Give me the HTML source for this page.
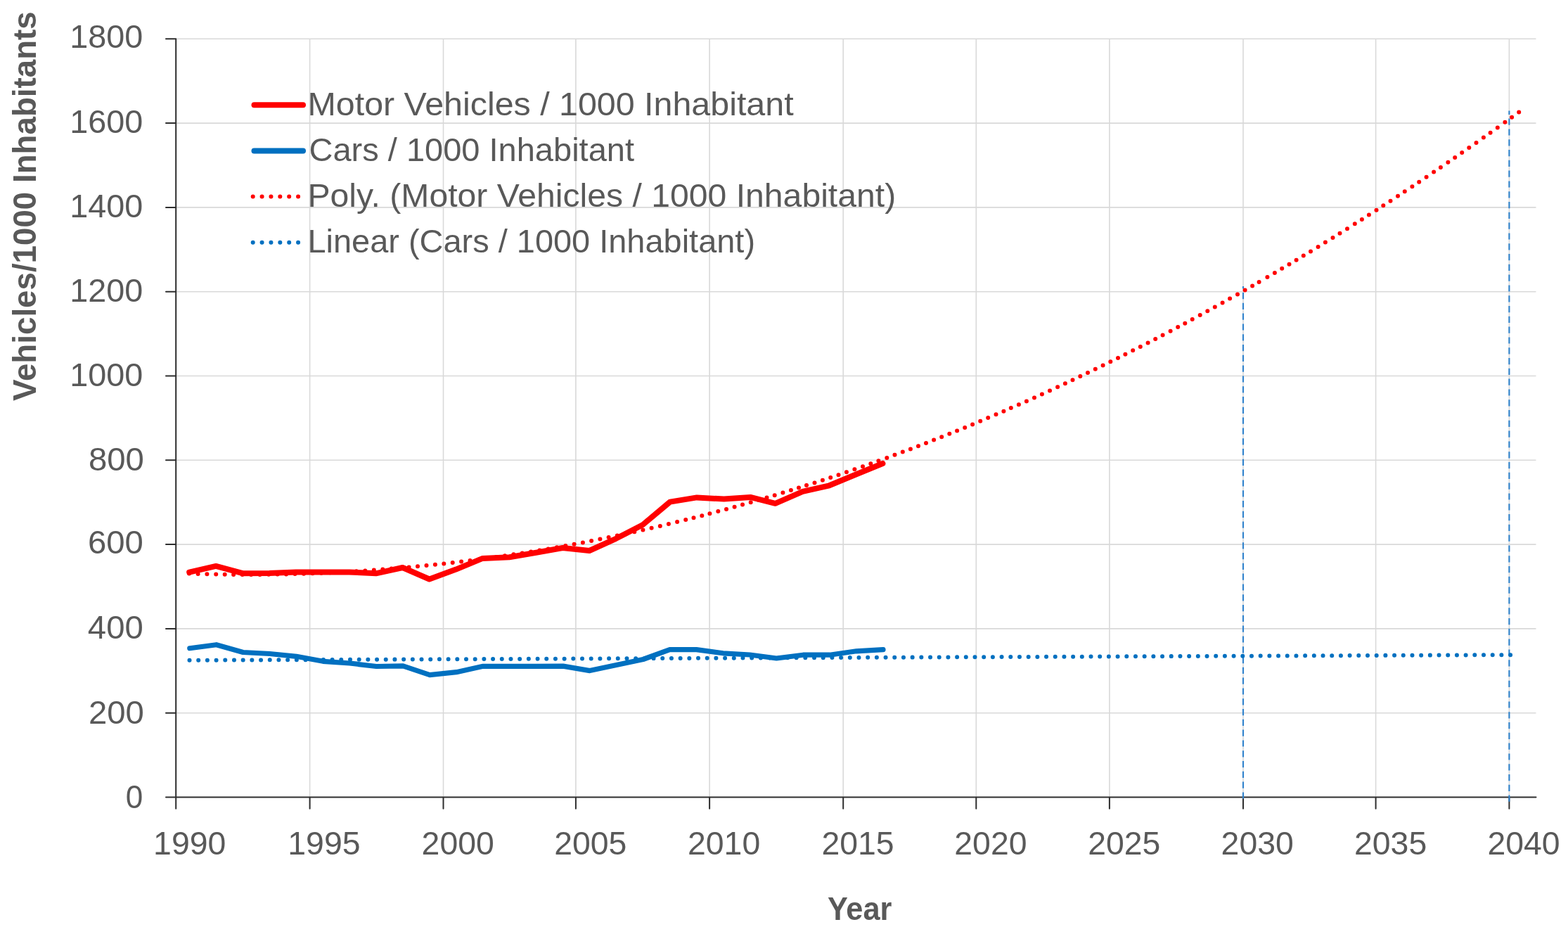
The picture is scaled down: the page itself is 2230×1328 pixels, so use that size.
<!DOCTYPE html>
<html><head><meta charset="utf-8"><title>Vehicles per 1000 Inhabitants</title>
<style>
html,body{margin:0;padding:0;background:#fff;}
body{width:2230px;height:1328px;overflow:hidden;}
svg{display:block;}
text{font-family:"Liberation Sans",Arial,sans-serif;fill:#595959;}
</style></head><body>
<svg width="2230" height="1328" viewBox="0 0 2230 1328">
<rect width="2230" height="1328" fill="#fff"/>
<path d="M250.2 1013.7H2184.5 M250.2 893.9H2184.5 M250.2 774.1H2184.5 M250.2 654.3H2184.5 M250.2 534.5H2184.5 M250.2 414.7H2184.5 M250.2 294.9H2184.5 M250.2 175.1H2184.5 M250.2 55.3H2184.5 M440.6 55.3V1133.5 M630.5 55.3V1133.5 M818.9 55.3V1133.5 M1009.1 55.3V1133.5 M1199.2 55.3V1133.5 M1388.3 55.3V1133.5 M1577.9 55.3V1133.5 M1768.0 55.3V1133.5 M1956.6 55.3V1133.5 M2146.4 55.3V1133.5" stroke="#d9d9d9" stroke-width="1.6" fill="none"/>
<path d="M250.2 55.3V1133.5 M236 1133.5H2184.5 M236 1013.7H250.2 M236 893.9H250.2 M236 774.1H250.2 M236 654.3H250.2 M236 534.5H250.2 M236 414.7H250.2 M236 294.9H250.2 M236 175.1H250.2 M236 55.3H250.2 M250.2 1133.5V1149.7 M440.6 1133.5V1149.7 M630.5 1133.5V1149.7 M818.9 1133.5V1149.7 M1009.1 1133.5V1149.7 M1199.2 1133.5V1149.7 M1388.3 1133.5V1149.7 M1577.9 1133.5V1149.7 M1768.0 1133.5V1149.7 M1956.6 1133.5V1149.7 M2146.4 1133.5V1149.7" stroke="#2e2e2e" stroke-width="2" fill="none" stroke-linecap="round"/>
<path d="M1768.0 1135.6V406.9 M2146.4 1139.8V157.6" stroke="#2f82cc" stroke-width="2.1" stroke-dasharray="9.2 5.6" fill="none"/>
<path d="M269.0 815.5h0.01 M281.6 815.9h0.01 M294.4 816.3h0.01 M307.2 816.5h0.01 M319.7 816.7h0.01 M332.1 816.9h0.01 M344.6 817.0h0.01 M357.1 817.0h0.01 M369.6 816.9h0.01 M382.1 816.8h0.01 M394.6 816.6h0.01 M407.0 816.4h0.01 M419.5 816.1h0.01 M432.0 815.7h0.01 M444.5 815.3h0.01 M457.0 814.8h0.01 M469.5 814.3h0.01 M481.9 813.6h0.01 M494.4 813.0h0.01 M506.9 812.2h0.01 M519.3 811.4h0.01 M531.8 810.6h0.01 M544.3 809.6h0.01 M556.7 808.6h0.01 M569.2 807.6h0.01 M581.6 806.5h0.01 M594.0 805.3h0.01 M606.5 804.1h0.01 M618.9 802.8h0.01 M631.3 801.4h0.01 M643.7 800.0h0.01 M656.1 798.5h0.01 M668.5 797.0h0.01 M680.9 795.4h0.01 M693.3 793.7h0.01 M705.7 792.0h0.01 M718.0 790.2h0.01 M730.4 788.3h0.01 M742.7 786.4h0.01 M755.1 784.5h0.01 M767.4 782.5h0.01 M779.7 780.4h0.01 M792.0 778.2h0.01 M804.3 776.0h0.01 M816.6 773.8h0.01 M828.9 771.4h0.01 M841.1 769.1h0.01 M853.4 766.6h0.01 M865.6 764.1h0.01 M877.8 761.6h0.01 M890.1 759.0h0.01 M902.3 756.3h0.01 M914.4 753.6h0.01 M926.6 750.8h0.01 M938.8 747.9h0.01 M950.9 745.1h0.01 M963.1 742.1h0.01 M975.2 739.1h0.01 M986.5 736.2h0.01 M998.3 733.2h0.01 M1009.4 730.3h0.01 M1021.3 727.1h0.01 M1033.0 723.9h0.01 M1044.6 720.7h0.01 M1056.0 717.5h0.01 M1067.7 714.2h0.01 M1079.1 710.9h0.01 M1090.5 707.5h0.01 M1101.7 704.2h0.01 M1113.4 700.6h0.01 M1124.9 697.1h0.01 M1136.0 693.6h0.01 M1147.0 690.1h0.01 M1158.5 686.4h0.01 M1169.9 682.7h0.01 M1181.2 678.9h0.01 M1192.5 675.2h0.01 M1203.9 671.3h0.01 M1215.4 667.3h0.01 M1227.0 663.3h0.01 M1238.3 659.3h0.01 M1249.4 655.3h0.01 M1261.3 650.9h0.01 M1272.5 646.8h0.01 M1283.8 642.6h0.01 M1294.9 638.4h0.01 M1306.0 634.2h0.01 M1317.0 629.9h0.01 M1328.1 625.6h0.01 M1339.2 621.2h0.01 M1350.3 616.8h0.01 M1361.1 612.4h0.01 M1372.2 607.9h0.01 M1383.1 603.4h0.01 M1394.2 598.8h0.01 M1405.2 594.1h0.01 M1416.5 589.3h0.01 M1427.4 584.7h0.01 M1437.8 580.1h0.01 M1448.9 575.3h0.01 M1459.9 570.4h0.01 M1471.0 565.4h0.01 M1481.9 560.5h0.01 M1493.0 555.4h0.01 M1504.1 550.3h0.01 M1514.9 545.3h0.01 M1525.5 540.3h0.01 M1536.3 535.1h0.01 M1547.0 530.0h0.01 M1557.8 524.8h0.01 M1568.6 519.6h0.01 M1579.3 514.3h0.01 M1590.0 509.0h0.01 M1600.4 503.8h0.01 M1611.2 498.3h0.01 M1621.8 492.9h0.01 M1632.6 487.4h0.01 M1643.2 481.9h0.01 M1653.6 476.5h0.01 M1664.6 470.7h0.01 M1675.2 465.1h0.01 M1685.3 459.7h0.01 M1695.7 454.1h0.01 M1706.7 448.1h0.01 M1717.3 442.3h0.01 M1727.8 436.5h0.01 M1738.6 430.5h0.01 M1749.1 424.6h0.01 M1760.0 418.5h0.01 M1770.6 412.4h0.01 M1781.1 406.4h0.01 M1790.6 401.0h0.01 M1802.4 394.1h0.01 M1812.9 387.9h0.01 M1823.2 381.8h0.01 M1833.5 375.7h0.01 M1843.6 369.7h0.01 M1853.8 363.5h0.01 M1864.0 357.4h0.01 M1874.6 350.9h0.01 M1884.9 344.6h0.01 M1895.5 338.0h0.01 M1905.5 331.8h0.01 M1916.0 325.2h0.01 M1926.8 318.3h0.01 M1936.9 311.9h0.01 M1946.9 305.5h0.01 M1957.5 298.7h0.01 M1967.3 292.3h0.01 M1977.5 285.7h0.01 M1988.0 278.8h0.01 M1997.8 272.3h0.01 M2008.4 265.3h0.01 M2018.2 258.7h0.01 M2028.6 251.7h0.01 M2039.1 244.6h0.01 M2048.9 238.0h0.01 M2059.4 230.8h0.01 M2069.2 224.0h0.01 M2079.2 217.1h0.01 M2089.3 210.0h0.01 M2099.5 202.9h0.01 M2109.9 195.5h0.01 M2119.6 188.7h0.01 M2129.8 181.4h0.01 M2140.4 173.8h0.01 M2150.1 166.8h0.01 M2160.2 159.4h0.01" fill="none" stroke="#ff0000" stroke-width="6" stroke-linecap="round"/>
<polyline points="269.5,938.8 2159.4,931.1" fill="none" stroke="#0070c0" stroke-width="6" stroke-linecap="round" stroke-dasharray="0.01 12.6833"/>
<polyline points="269.2,813.6 307.1,804.9 345.1,815.2 383.0,815.0 420.9,813.6 458.9,813.4 496.8,813.4 534.7,815.3 572.6,807.0 610.6,823.5 648.5,809.6 686.4,793.9 724.4,792.2 762.3,785.8 800.2,779.0 838.2,783.0 876.1,765.8 914.0,746.3 952.9,713.6 991.0,707.4 1029.6,709.6 1067.2,706.9 1102.6,715.8 1141.6,698.9 1179.5,690.3 1217.5,674.5 1255.4,659.0" fill="none" stroke="#ff0000" stroke-width="8" stroke-linejoin="round" stroke-linecap="round"/>
<polyline points="269.8,921.7 307.7,916.7 345.7,927.5 383.6,929.5 421.5,933.3 459.5,940.3 497.4,943.0 535.3,947.5 573.2,946.9 611.2,959.7 649.1,955.7 687.0,947.3 725.0,947.3 762.9,947.3 800.8,947.1 838.8,953.6 876.7,945.5 914.6,937.5 952.5,923.6 990.5,923.6 1028.4,928.8 1066.3,931.0 1104.3,936.0 1142.2,931.2 1180.1,931.2 1218.0,925.8 1256.0,923.6" fill="none" stroke="#0070c0" stroke-width="7.2" stroke-linejoin="round" stroke-linecap="round"/>
<path d="M361.5 149.3H431" stroke="#ff0000" stroke-width="8" stroke-linecap="round" fill="none"/>
<path d="M361.5 214.5H431" stroke="#0070c0" stroke-width="8" stroke-linecap="round" fill="none"/>
<path d="M359.7 279.6H425" stroke="#ff0000" stroke-width="6" stroke-linecap="round" stroke-dasharray="0.01 12.86" fill="none"/>
<path d="M359.7 344.8H425" stroke="#0070c0" stroke-width="6" stroke-linecap="round" stroke-dasharray="0.01 12.86" fill="none"/>
<text x="99.30" y="67.99" font-size="45.30" textLength="104.00" lengthAdjust="spacingAndGlyphs">1800</text>
<text x="99.30" y="189.20" font-size="45.30" textLength="104.00" lengthAdjust="spacingAndGlyphs">1600</text>
<text x="99.30" y="308.80" font-size="45.30" textLength="104.00" lengthAdjust="spacingAndGlyphs">1400</text>
<text x="99.30" y="429.20" font-size="45.30" textLength="104.00" lengthAdjust="spacingAndGlyphs">1200</text>
<text x="99.30" y="548.80" font-size="45.30" textLength="104.00" lengthAdjust="spacingAndGlyphs">1000</text>
<text x="125.95" y="668.81" font-size="45.30" textLength="78.90" lengthAdjust="spacingAndGlyphs">800</text>
<text x="124.92" y="787.38" font-size="45.30" textLength="78.90" lengthAdjust="spacingAndGlyphs">600</text>
<text x="124.89" y="907.81" font-size="45.30" textLength="78.90" lengthAdjust="spacingAndGlyphs">400</text>
<text x="125.95" y="1028.80" font-size="45.30" textLength="78.90" lengthAdjust="spacingAndGlyphs">200</text>
<text x="178.78" y="1148.60" font-size="45.30" textLength="24.53" lengthAdjust="spacingAndGlyphs">0</text>
<text x="218.10" y="1214.80" font-size="45.30" textLength="103.20" lengthAdjust="spacingAndGlyphs">1990</text>
<text x="409.30" y="1214.80" font-size="45.30" textLength="103.20" lengthAdjust="spacingAndGlyphs">1995</text>
<text x="599.61" y="1214.80" font-size="45.30" textLength="103.20" lengthAdjust="spacingAndGlyphs">2000</text>
<text x="788.20" y="1214.80" font-size="45.30" textLength="103.20" lengthAdjust="spacingAndGlyphs">2005</text>
<text x="978.00" y="1214.80" font-size="45.30" textLength="103.20" lengthAdjust="spacingAndGlyphs">2010</text>
<text x="1168.40" y="1214.80" font-size="45.30" textLength="103.20" lengthAdjust="spacingAndGlyphs">2015</text>
<text x="1357.30" y="1214.80" font-size="45.30" textLength="103.20" lengthAdjust="spacingAndGlyphs">2020</text>
<text x="1547.20" y="1214.80" font-size="45.30" textLength="103.20" lengthAdjust="spacingAndGlyphs">2025</text>
<text x="1736.60" y="1214.80" font-size="45.30" textLength="103.20" lengthAdjust="spacingAndGlyphs">2030</text>
<text x="1926.01" y="1214.80" font-size="45.30" textLength="103.20" lengthAdjust="spacingAndGlyphs">2035</text>
<text x="2115.41" y="1214.80" font-size="45.30" textLength="103.20" lengthAdjust="spacingAndGlyphs">2040</text>
<text x="437.50" y="163.80" font-size="45.50" textLength="691.11" lengthAdjust="spacingAndGlyphs">Motor Vehicles / 1000 Inhabitant</text>
<text x="439.51" y="228.95" font-size="45.50" textLength="462.49" lengthAdjust="spacingAndGlyphs">Cars / 1000 Inhabitant</text>
<text x="437.48" y="294.10" font-size="45.50" textLength="836.73" lengthAdjust="spacingAndGlyphs">Poly. (Motor Vehicles / 1000 Inhabitant)</text>
<text x="437.48" y="359.25" font-size="45.50" textLength="636.54" lengthAdjust="spacingAndGlyphs">Linear (Cars / 1000 Inhabitant)</text>
<text x="1176.89" y="1307.80" font-size="45.73" font-weight="bold" textLength="91.51" lengthAdjust="spacingAndGlyphs">Year</text>
<text transform="translate(51.19,570.00) rotate(-90)" font-size="45.37" font-weight="bold" textLength="553.71" lengthAdjust="spacingAndGlyphs">Vehicles/1000 Inhabitants</text>
</svg></body></html>
